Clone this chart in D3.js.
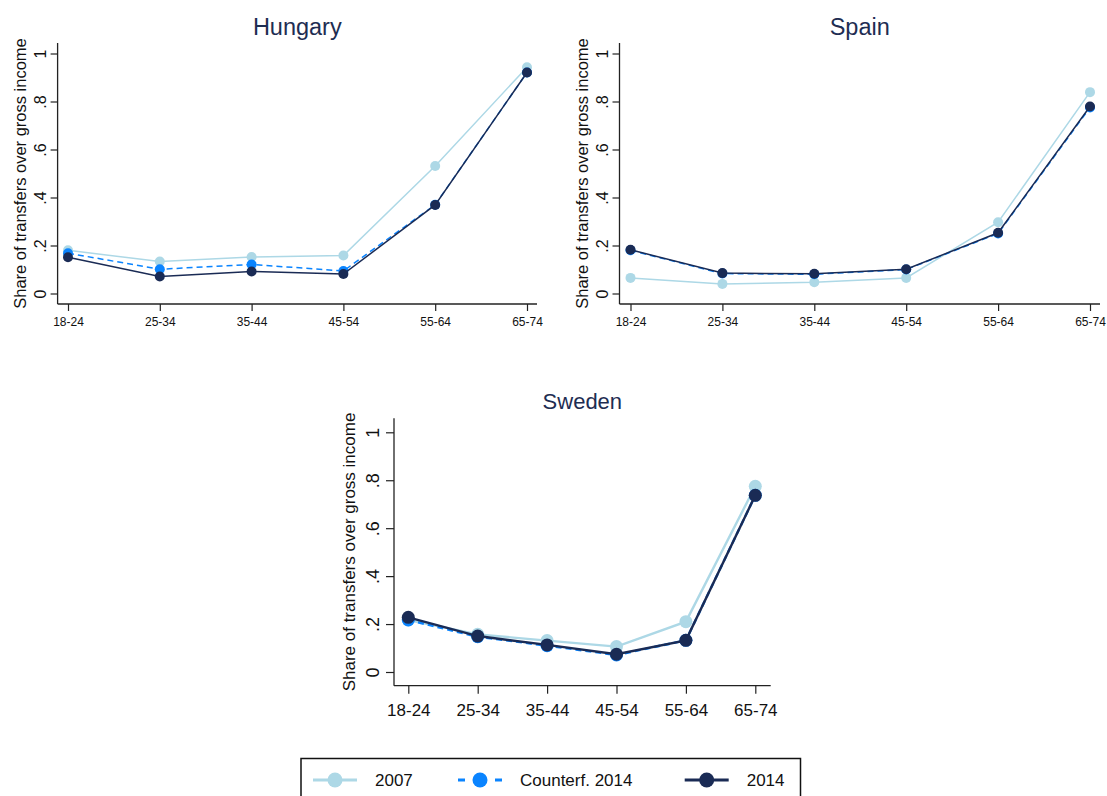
<!DOCTYPE html>
<html>
<head>
<meta charset="utf-8">
<script src="https://cdn.jsdelivr.net/npm/d3@7"></script>
<style>
  html, body { margin: 0; padding: 0; background: #fff; }
  svg { display: block; font-family: "Liberation Sans", Arial, sans-serif; }
</style>
</head>
<body>
<svg id="chart" width="1107" height="796"></svg>
<script>
// ---- data ----
const ageGroups = ["18-24", "25-34", "35-44", "45-54", "55-64", "65-74"];
const yTickValues = [0, 0.2, 0.4, 0.6, 0.8, 1];
const yTickLabels = ["0", ".2", ".4", ".6", ".8", "1"];
const seriesNames = ["2007", "Counterf. 2014", "2014"];

const hungary2007 = [0.18, 0.133, 0.152, 0.158, 0.531, 0.943];
const hungaryCf   = [0.168, 0.101, 0.121, 0.094, 0.37, 0.921];
const hungary2014 = [0.151, 0.071, 0.092, 0.081, 0.369, 0.921];

const spain2007 = [0.065, 0.04, 0.047, 0.065, 0.297, 0.839];
const spainCf   = [0.18, 0.083, 0.08, 0.10, 0.25, 0.775];
const spain2014 = [0.182, 0.085, 0.082, 0.101, 0.253, 0.779];

const sweden2007 = [0.217, 0.157, 0.131, 0.106, 0.21, 0.775];
const swedenCf   = [0.217, 0.147, 0.11, 0.071, 0.132, 0.737];
const sweden2014 = [0.228, 0.15, 0.113, 0.074, 0.132, 0.737];

const yTitle = "Share of transfers over gross income";

// ---- styles ----
const colors = ["#add8e6", "#0a84ff", "#1a2b55"];
const dashes = [null, "6,4", null];
const titleColor = "#1e2d52";

const svg = d3.select("#chart");

function panel(opts) {
  const { title, data, axisX, xRange, xEnd, yRange, yTop, xAxisY,
          tickFont, yTickFont, titleFont, yTitleFont, r, lw, tickLen, yLabelOff,
          yTitleX, xLabelOff, titleY } = opts;
  const g = svg.append("g");
  const x = d3.scalePoint().domain(ageGroups).range(xRange);
  const y = d3.scaleLinear().domain([0, 1]).range(yRange);

  // axis lines
  g.append("line").attr("x1", axisX).attr("x2", axisX)
    .attr("y1", yTop).attr("y2", xAxisY)
    .attr("stroke", "#222").attr("stroke-width", 1.3);
  g.append("line").attr("x1", axisX).attr("x2", xEnd)
    .attr("y1", xAxisY).attr("y2", xAxisY)
    .attr("stroke", "#222").attr("stroke-width", 1.3);

  // y axis
  const ya = g.append("g").attr("transform", `translate(${axisX},0)`)
    .call(d3.axisLeft(y).tickValues(yTickValues)
      .tickFormat((d, i) => yTickLabels[i]).tickSize(tickLen).tickSizeOuter(0));
  ya.select(".domain").remove();
  ya.attr("font-size", null);
  ya.selectAll(".tick line").attr("stroke", "#222").attr("stroke-width", 1.2);
  ya.selectAll(".tick text")
    .attr("x", null).attr("dy", null)
    .attr("text-anchor", "middle")
    .attr("transform", `translate(${-yLabelOff},0) rotate(-90)`)
    .style("font-size", yTickFont + "px").attr("fill", "#111")
    .attr("font-family", "Liberation Sans, Arial, sans-serif");

  // x axis
  const xa = g.append("g").attr("transform", `translate(0,${xAxisY})`)
    .call(d3.axisBottom(x).tickSize(tickLen).tickSizeOuter(0));
  xa.select(".domain").remove();
  xa.attr("font-size", null);
  xa.selectAll(".tick line").attr("stroke", "#222").attr("stroke-width", 1.2);
  xa.selectAll(".tick text").attr("dy", null).attr("y", xLabelOff)
    .style("font-size", tickFont + "px").attr("fill", "#111")
    .attr("font-family", "Liberation Sans, Arial, sans-serif");

  // y title
  g.append("text")
    .attr("transform", `translate(${yTitleX},${(yTop + xAxisY) / 2}) rotate(-90)`)
    .attr("text-anchor", "middle").attr("font-size", yTitleFont)
    .attr("fill", "#111").text(yTitle);

  // title
  g.append("text").attr("x", (axisX + xEnd) / 2).attr("y", titleY)
    .attr("text-anchor", "middle").attr("font-size", titleFont)
    .attr("fill", titleColor).text(title);

  // series
  const line = d3.line().x((d, i) => x(ageGroups[i])).y(d => y(d));
  data.forEach((vals, k) => {
    g.append("path").datum(vals).attr("d", line)
      .attr("fill", "none").attr("stroke", colors[k])
      .attr("stroke-width", lw).attr("stroke-dasharray", dashes[k]);
    g.selectAll(null).data(vals).enter().append("circle")
      .attr("cx", (d, i) => x(ageGroups[i])).attr("cy", d => y(d))
      .attr("r", r).attr("fill", colors[k]);
  });
}

panel({
  title: "Hungary", data: [hungary2007, hungaryCf, hungary2014],
  axisX: 57.6, xRange: [68, 527], xEnd: 537, yRange: [293.5, 53.5],
  yTop: 43, xAxisY: 304, tickFont: 12, yTickFont: 16, titleFont: 23.5, yTitleFont: 16.5,
  r: 5, lw: 1.5, tickLen: 7, yLabelOff: 12, yTitleX: 26, xLabelOff: 22, titleY: 35
});

panel({
  title: "Spain", data: [spain2007, spainCf, spain2014],
  axisX: 619.5, xRange: [630.5, 1090], xEnd: 1100, yRange: [293.5, 53.5],
  yTop: 43, xAxisY: 304, tickFont: 12, yTickFont: 16, titleFont: 23.5, yTitleFont: 16.5,
  r: 5, lw: 1.5, tickLen: 7, yLabelOff: 12, yTitleX: 588, xLabelOff: 22, titleY: 35
});

panel({
  title: "Sweden", data: [sweden2007, swedenCf, sweden2014],
  axisX: 394, xRange: [408.3, 755.3], xEnd: 770.7, yRange: [672, 432.3],
  yTop: 418.3, xAxisY: 685.7, tickFont: 17, yTickFont: 18, titleFont: 22, yTitleFont: 17,
  r: 6.5, lw: 2.4, tickLen: 8, yLabelOff: 15, yTitleX: 355, xLabelOff: 30, titleY: 409
});

// ---- legend ----
const legendMarkerX = [335, 480, 706.7];
const lg = svg.append("g");
lg.append("rect").attr("x", 301).attr("y", 758.5).attr("width", 499.5).attr("height", 60)
  .attr("fill", "#fff").attr("stroke", "#111").attr("stroke-width", 1.5);
seriesNames.forEach((name, k) => {
  const cx = legendMarkerX[k];
  lg.append("line").attr("x1", cx - 22).attr("x2", cx + 22)
    .attr("y1", 780).attr("y2", 780).attr("stroke", colors[k])
    .attr("stroke-width", 3).attr("stroke-dasharray", k === 1 ? "7,30" : null);
  lg.append("circle").attr("cx", cx).attr("cy", 780).attr("r", 7.5).attr("fill", colors[k]);
  lg.append("text").attr("x", cx + 40).attr("y", 786).attr("font-size", 17)
    .attr("fill", "#111").text(name);
});
</script>
</body>
</html>
